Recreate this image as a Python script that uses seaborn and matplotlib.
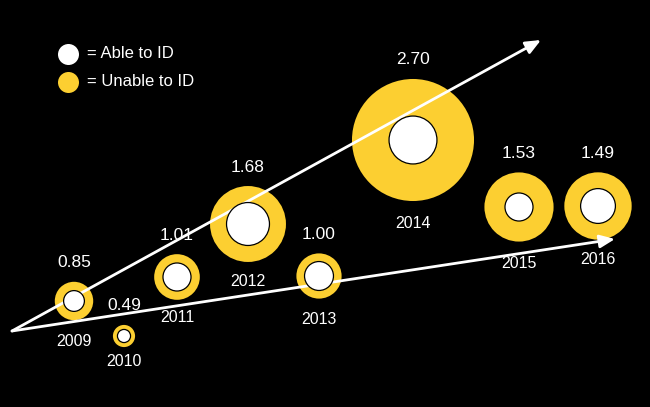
import numpy as np
import matplotlib
matplotlib.use("Agg")
import matplotlib.pyplot as plt
import seaborn as sns

# data
years = ["2009", "2010", "2011", "2012", "2013", "2014", "2015", "2016"]
unable = [0.85, 0.49, 1.01, 1.68, 1.00, 2.70, 1.53, 1.49]   # outer (yellow) circle
able = [0.46, 0.29, 0.62, 0.95, 0.64, 1.06, 0.62, 0.77]     # inner (white) circle
value_labels = ["0.85", "0.49", "1.01", "1.68", "1.00", "2.70", "1.53", "1.49"]

# layout (pixel coords, y down)
x_pos = [74, 124, 177, 248, 319, 413, 519, 598]
y_pos = [301, 336, 277, 224, 276, 140, 207, 206]
year_y = [341, 361, 318, 281, 320, 223, 263, 259]

YELLOW = "#FCCF31"
PX_PER_UNIT = 22.6  # radius in pixels per unit value
DPI = 100

sns.set_style("white")
plt.rcParams["font.family"] = ["Liberation Sans", "DejaVu Sans"]

fig = plt.figure(figsize=(6.5, 4.07), dpi=DPI, facecolor="black")
ax = fig.add_axes([0, 0, 1, 1])
ax.set_facecolor("black")
ax.set_xlim(0, 650)
ax.set_ylim(407, 0)
ax.axis("off")


def marker_area(r_px):
    r_pt = np.asarray(r_px) * 72.0 / DPI
    return (2 * r_pt) ** 2


r_out = np.array(unable) * PX_PER_UNIT
r_in = np.array(able) * PX_PER_UNIT

sns.scatterplot(x=x_pos, y=y_pos, s=marker_area(r_out), color=YELLOW,
                linewidth=0, ax=ax, zorder=2, legend=False)

# arrows
start = (12, 331)
for end in [(541, 40), (615, 239)]:
    ax.annotate("", xy=end, xytext=start,
                arrowprops=dict(arrowstyle="-|>,head_length=0.7,head_width=0.3",
                                color="white", lw=2.0, mutation_scale=13,
                                shrinkA=0, shrinkB=0), zorder=3)

sns.scatterplot(x=x_pos, y=y_pos, s=marker_area(r_in), color="white",
                edgecolor="black", linewidth=0.9, ax=ax, zorder=4, legend=False)

# labels
for x, y, r, lab, yr, yy in zip(x_pos, y_pos, r_out, value_labels, years, year_y):
    ax.text(x, y - r - 19, lab, color="white", fontsize=12.5,
            ha="center", va="center", zorder=5)
    ax.text(x, yy, yr, color="white", fontsize=11.5,
            ha="center", va="center", zorder=5)

# legend
sns.scatterplot(x=[68], y=[54], s=marker_area(10.5), color="white",
                linewidth=0, ax=ax, zorder=4, legend=False)
sns.scatterplot(x=[68], y=[82], s=marker_area(10.5), color=YELLOW,
                linewidth=0, ax=ax, zorder=4, legend=False)
ax.text(87, 54, "= Able to ID", color="white", fontsize=12, va="center")
ax.text(87, 82, "= Unable to ID", color="white", fontsize=12, va="center")

fig.savefig("out.png", dpi=DPI, facecolor="black")
